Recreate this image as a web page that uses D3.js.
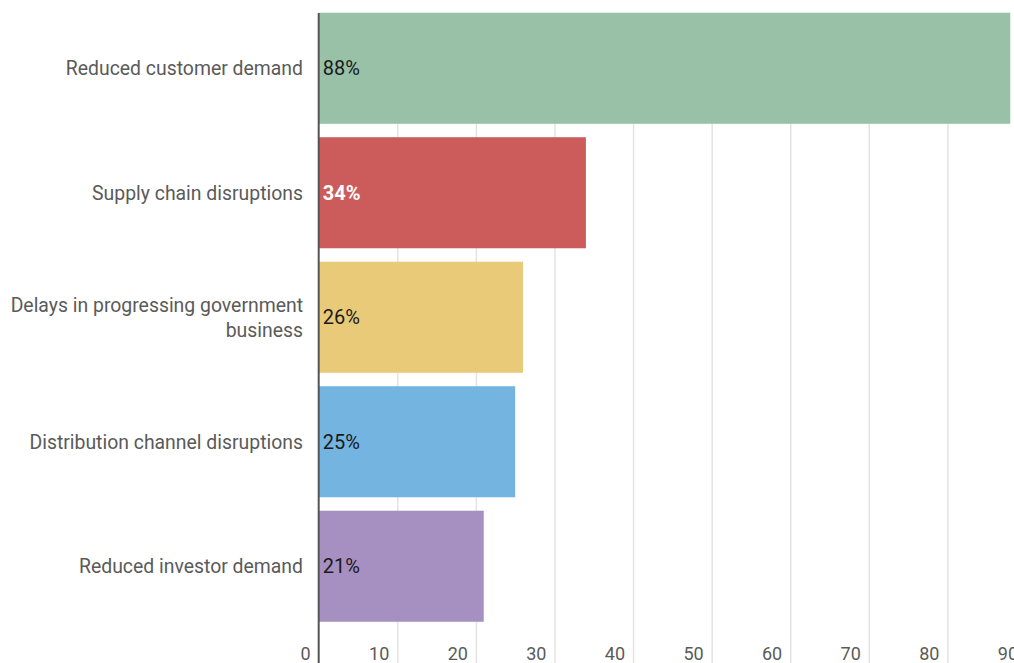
<!DOCTYPE html>
<html>
<head>
<meta charset="utf-8">
<script src="https://cdn.jsdelivr.net/npm/d3@7"></script>
<style>
  body { margin: 0; background: #fff; }
  text { font-family: Roboto, "Noto Sans", sans-serif; }
  .grid line { stroke: #e3e3e3; stroke-width: 1.5; }
  .grid .domain { display: none; }
</style>
</head>
<body>
<div id="chart"></div>
<script>
var categories = ["Reduced customer demand", "Supply chain disruptions", "Delays in progressing government business", "Distribution channel disruptions", "Reduced investor demand"];
var values = [88, 34, 26, 25, 21];
var colors = ["#98c1a7", "#cc5b5b", "#e8ca78", "#74b4e1", "#a690c2"];
var ticks = [0, 10, 20, 30, 40, 50, 60, 70, 80, 90];

var width = 1014, height = 663;

var svg = d3.select("#chart").append("svg")
	.attr("width", width)
	.attr("height", height);

var x = d3.scaleLinear().domain([0, 90]).range([318.7, 1026]);
var y = d3.scaleBand().domain(categories).range([6, 628.5]).paddingInner(0.108).paddingOuter(0.054);

// gridlines
svg.append("g")
	.attr("class", "grid")
	.attr("transform", "translate(0," + height + ")")
	.call(d3.axisBottom(x).tickValues(ticks.slice(1)).tickSize(-(height - 13)).tickFormat(""));

// bars
var data = categories.map(function(c, i){ return {name: c, value: values[i], color: colors[i]}; });

svg.selectAll(".bar")
	.data(data).enter()
	.append("rect")
	.attr("class", "bar")
	.attr("x", x(0))
	.attr("y", function(d){ return y(d.name); })
	.attr("width", function(d){ return x(d.value) - x(0); })
	.attr("height", y.bandwidth())
	.attr("fill", function(d){ return d.color; });

// value labels
svg.selectAll(".val")
	.data(data).enter()
	.append("text")
	.attr("x", x(0) + 4)
	.attr("y", function(d){ return y(d.name) + y.bandwidth() / 2; })
	.attr("dy", "0.36em")
	.attr("font-size", "20px")
	.attr("fill", function(d, i){ return i == 1 ? "#fff" : "#1a1a1a"; })
	.attr("font-weight", function(d, i){ return i == 1 ? "bold" : "normal"; })
	.text(function(d){ return d.value + "%"; });

// category labels
var labels = svg.selectAll(".cat")
	.data(data).enter()
	.append("text")
	.attr("text-anchor", "end")
	.attr("font-size", "19.4px")
	.attr("fill", "#5a5a5a")
	.attr("x", 303)
	.attr("y", function(d){ return y(d.name) + y.bandwidth() / 2; });

labels.each(function(d){
	var t = d3.select(this);
	if (d.name.length > 35) {
		t.append("tspan").attr("x", 303).attr("dy", "-0.28em").text("Delays in progressing government");
		t.append("tspan").attr("x", 303).attr("dy", "1.3em").text("business");
	} else {
		t.attr("dy", "0.36em").text(d.name);
	}
});

// tick labels
svg.selectAll(".tick-label")
	.data(ticks).enter()
	.append("text")
	.attr("text-anchor", "end")
	.attr("font-size", "18px")
	.attr("fill", "#5a5a5a")
	.attr("x", function(d){ return x(d) - 8; })
	.attr("y", 660)
	.text(function(d){ return d; });

// vertical axis line
svg.append("line")
	.attr("x1", x(0)).attr("x2", x(0))
	.attr("y1", 13).attr("y2", height)
	.attr("stroke", "#555")
	.attr("stroke-width", 2);
</script>
</body>
</html>
